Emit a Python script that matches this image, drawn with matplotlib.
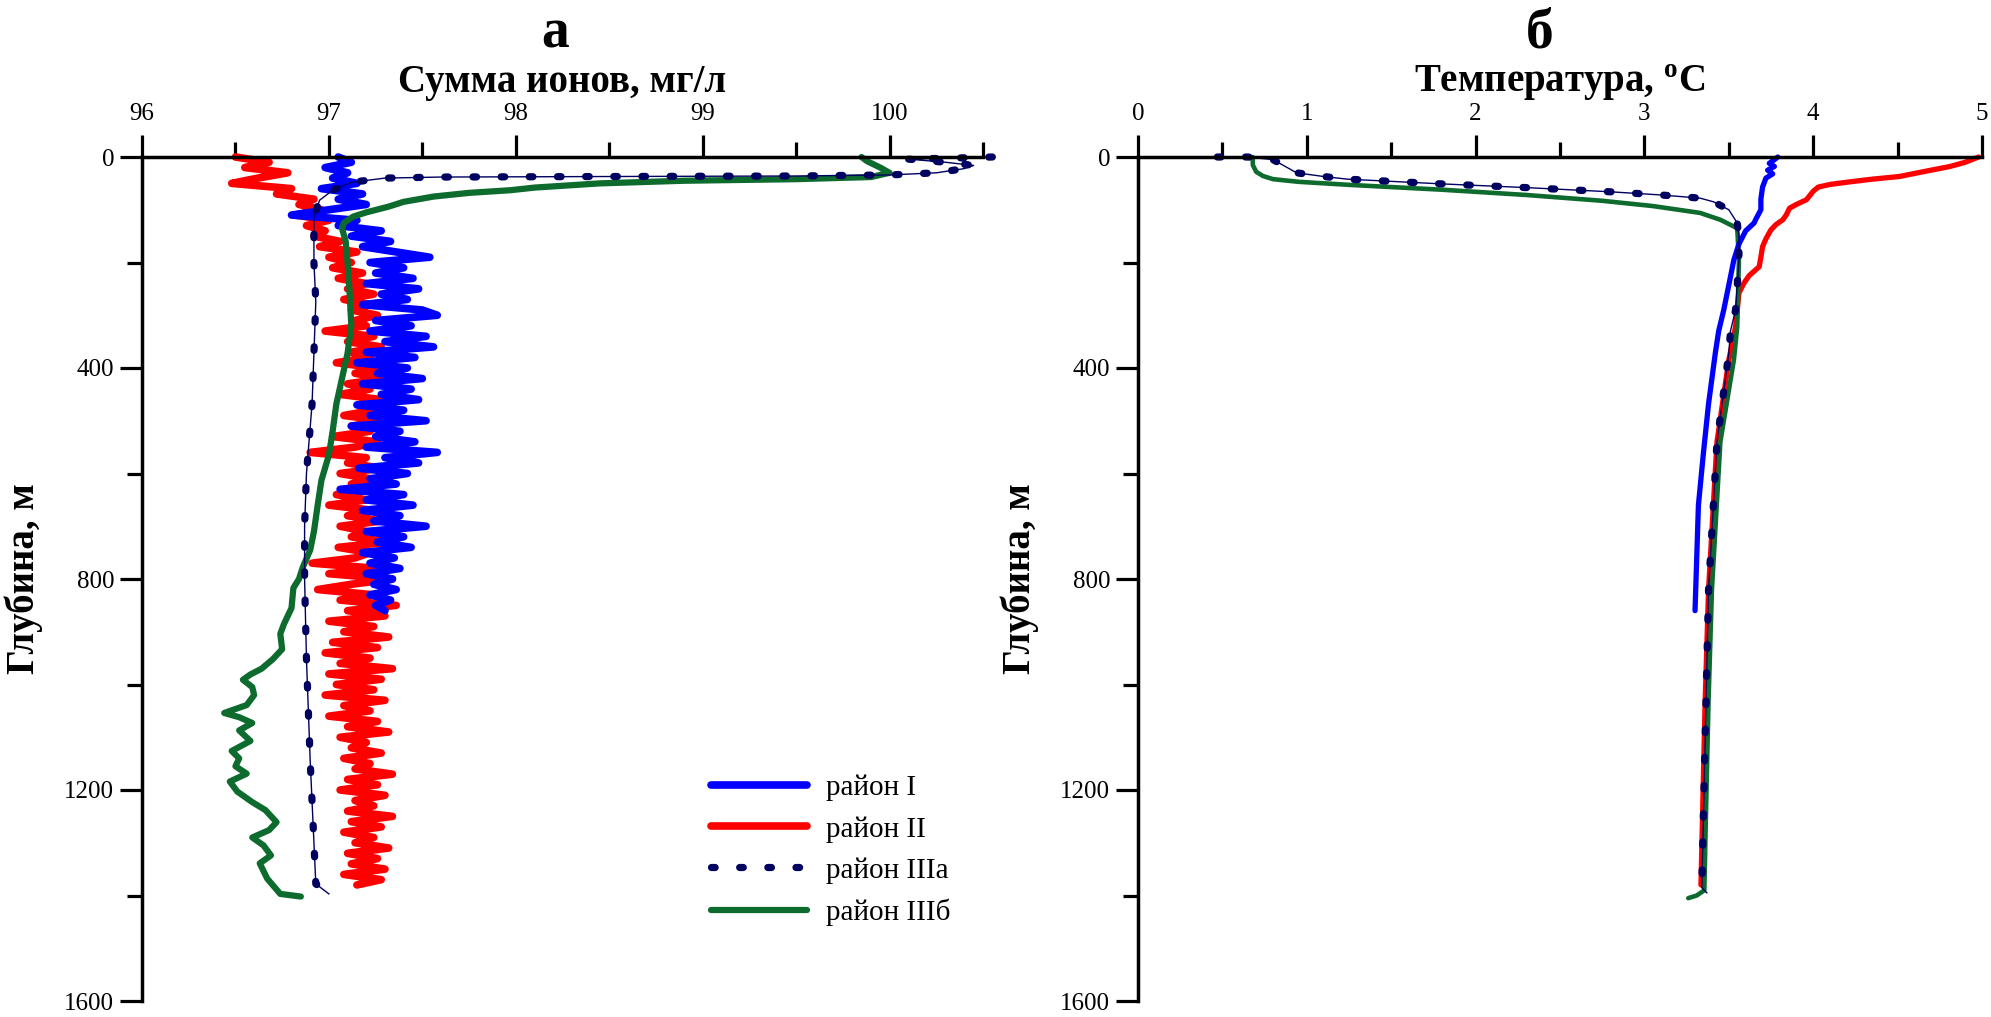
import numpy as np
import matplotlib
matplotlib.use("Agg")
import matplotlib.pyplot as plt
from matplotlib.ticker import MultipleLocator

plt.rcParams['font.family'] = ['Liberation Serif', 'DejaVu Serif']
plt.rcParams['mathtext.fontset'] = 'custom'
plt.rcParams['mathtext.rm'] = 'Liberation Serif'
plt.rcParams['mathtext.bf'] = 'Liberation Serif:bold'

# ---------------- data: panel a (sum of ions, mg/l) ----------------
blue_a_depth = list(range(0, 861, 10))
blue_a_val = [97.05, 97.12, 96.98, 97.10, 97.02, 97.15, 96.96, 97.18, 97.05, 97.20,
              97.00, 96.80, 97.15, 97.05, 97.28, 97.12, 97.33, 97.18, 97.36, 97.54,
              97.22, 97.40, 97.25, 97.45, 97.20, 97.48, 97.28, 97.42, 97.18, 97.50,
              97.58, 97.25, 97.44, 97.22, 97.52, 97.30, 97.56, 97.20, 97.46, 97.15,
              97.42, 97.26, 97.50, 97.18, 97.44, 97.28, 97.48, 97.15, 97.40, 97.22,
              97.52, 97.12, 97.38, 97.25, 97.46, 97.20, 97.58, 97.30, 97.48, 97.16,
              97.42, 97.22, 97.36, 97.06, 97.40, 97.20, 97.45, 97.18, 97.38, 97.24,
              97.52, 97.20, 97.40, 97.26, 97.44, 97.18, 97.35, 97.22, 97.38, 97.20,
              97.34, 97.24, 97.36, 97.22, 97.33, 97.25, 97.30]

red_a_depth = list(range(0, 1381, 10))
red_a_val = [96.50, 96.68, 96.55, 96.78, 96.62, 96.48, 96.80, 96.72, 96.92, 96.84,
             96.96, 96.82, 97.00, 96.88, 96.98, 96.92, 97.06, 96.95, 97.15, 97.00,
             97.12, 97.02, 97.18, 97.05, 97.20, 97.10, 97.24, 97.08, 97.22, 97.12,
             97.26, 97.14, 97.20, 96.98, 97.24, 97.10, 97.28, 97.12, 97.22, 97.04,
             97.26, 97.14, 97.30, 97.10, 97.22, 97.06, 97.28, 97.16, 97.24, 97.08,
             97.30, 97.12, 97.22, 97.02, 97.26, 97.14, 96.90, 97.20, 97.10, 97.28,
             97.06, 97.22, 97.12, 97.26, 97.04, 97.20, 97.00, 97.24, 97.10, 97.28,
             97.06, 97.20, 97.12, 97.32, 97.05, 97.22, 97.14, 96.91, 97.26, 97.00,
             97.34, 97.12, 96.94, 97.24, 97.06, 97.36, 97.10, 97.30, 97.00, 97.24,
             97.08, 97.32, 97.02, 97.26, 96.98, 97.22, 97.06, 97.34, 97.00, 97.28,
             97.04, 97.24, 96.98, 97.30, 97.08, 97.22, 97.00, 97.26, 97.10, 97.32,
             97.06, 97.20, 97.12, 97.28, 97.08, 97.22, 97.14, 97.34, 97.10, 97.26,
             97.06, 97.30, 97.14, 97.24, 97.10, 97.34, 97.12, 97.28, 97.08, 97.24,
             97.14, 97.32, 97.10, 97.26, 97.12, 97.30, 97.08, 97.28, 97.15]

navy_a_val = [100.55, 100.35, 100.10, 100.30, 100.45, 100.40, 100.25, 100.00, 99.50,
              98.50, 97.60, 97.30, 97.12, 97.02, 96.95, 96.92, 96.92, 96.93, 96.91,
              96.88, 96.87, 96.87, 96.88, 96.90, 96.92, 96.93, 97.00]
navy_a_depth = [0, 2, 4, 10, 16, 22, 30, 34, 36,
                37, 38, 40, 48, 63, 82, 113, 200, 275, 468,
                600, 700, 800, 952, 1145, 1300, 1378, 1397]

green_a_val = [99.85, 99.88, 99.95, 100.00, 99.90, 99.50, 98.90, 98.45, 98.10, 97.97,
               97.75, 97.56, 97.40, 97.32, 97.20, 97.13, 97.08, 97.07, 97.09, 97.10,
               97.11, 97.12, 97.10, 97.07, 97.04, 97.02, 97.00, 96.96, 96.94, 96.92,
               96.90, 96.86, 96.84, 96.81, 96.80, 96.76, 96.74, 96.75, 96.70, 96.64,
               96.58, 96.54, 96.59, 96.60, 96.56, 96.44, 96.52, 96.59, 96.52, 96.58,
               96.48, 96.52, 96.50, 96.56, 96.47, 96.51, 96.59, 96.66, 96.72, 96.68,
               96.59, 96.65, 96.69, 96.63, 96.67, 96.74, 96.85]
green_a_depth = [0, 8, 20, 30, 38, 42, 45, 50, 58, 63,
                 68, 75, 85, 94, 105, 113, 125, 135, 160, 200,
                 250, 320, 372, 420, 468, 520, 565, 613, 660, 710,
                 745, 778, 800, 817, 855, 885, 904, 933, 952, 970,
                 981, 991, 1005, 1020, 1039, 1054, 1062, 1073, 1087, 1107,
                 1126, 1140, 1155, 1169, 1184, 1203, 1223, 1238, 1261, 1276,
                 1290, 1305, 1324, 1339, 1368, 1397, 1402]

# ---------------- data: panel b (temperature, C) ----------------
red_b_val = [4.98, 4.90, 4.81, 4.65, 4.51, 4.35, 4.22, 4.10, 4.03, 4.00, 3.96, 3.90,
             3.86, 3.84, 3.82, 3.78, 3.75, 3.72, 3.70, 3.69, 3.68, 3.62, 3.59, 3.56,
             3.54, 3.50, 3.43, 3.38, 3.36, 3.345, 3.335]
red_b_depth = [0, 10, 18, 28, 37, 42, 47, 52, 57, 65, 81, 90,
               97, 110, 119, 128, 138, 155, 170, 190, 208, 225, 239, 258,
               322, 385, 540, 820, 1030, 1240, 1380]

blue_b_val = [3.79, 3.77, 3.74, 3.77, 3.73, 3.76, 3.72, 3.70, 3.69, 3.69, 3.66, 3.65,
              3.60, 3.56, 3.53, 3.51, 3.47, 3.44, 3.42, 3.38, 3.35, 3.32, 3.31, 3.30]
blue_b_depth = [0, 5, 12, 18, 25, 32, 40, 57, 80, 100, 118, 125,
                140, 165, 195, 227, 290, 330, 372, 468, 560, 660, 760, 860]

navy_b_val = [0.47, 0.65, 0.80, 0.94, 1.10, 1.24, 1.80, 2.30, 2.80, 3.10, 3.33, 3.41,
              3.50, 3.55, 3.56, 3.56, 3.54, 3.51, 3.50, 3.43, 3.38, 3.365, 3.35, 3.34,
              3.37]
navy_b_depth = [0, 0, 5, 30, 37, 42, 51, 58, 66, 72, 78, 85,
                100, 125, 150, 195, 290, 330, 372, 540, 820, 1030, 1240, 1385,
                1395]

green_b_val = [0.68, 0.68, 0.70, 0.74, 0.80, 0.95, 1.26, 1.80, 2.30, 2.75, 3.05, 3.33,
               3.45, 3.55, 3.56, 3.55, 3.53, 3.45, 3.40, 3.38, 3.365, 3.355, 3.31, 3.26]
green_b_depth = [0, 15, 28, 36, 42, 47, 53, 62, 72, 83, 93, 106,
                 119, 135, 195, 322, 385, 540, 820, 1030, 1240, 1390, 1400, 1405]

labels = ['район I', 'район II', 'район IIIа', 'район IIIб']
c_blue, c_red, c_navy, c_green = '#0000FF', '#FF0000', '#000060', '#0E6B2E'

# ---------------- figure ----------------
W, H = 1991, 1017
fig = plt.figure(figsize=(W / 100, H / 100), dpi=100)
ax1 = fig.add_axes([142 / W, 1 - 1001 / H, 841 / W, 844 / H])
ax2 = fig.add_axes([1138 / W, 1 - 1001 / H, 844 / W, 844 / H])

tick_fs = 18
lab_fs = 28


def style(ax, xlim, xmajor, xlabel):
    ax.set_xlim(*xlim)
    ax.set_ylim(1600, 0)
    for s in ['right', 'bottom']:
        ax.spines[s].set_visible(False)
    for s in ['left', 'top']:
        ax.spines[s].set_linewidth(2.5)
    ax.xaxis.tick_top()
    ax.xaxis.set_label_position('top')
    ax.xaxis.set_major_locator(MultipleLocator(xmajor))
    ax.xaxis.set_minor_locator(MultipleLocator(xmajor / 2))
    ax.yaxis.set_major_locator(MultipleLocator(400))
    ax.yaxis.set_minor_locator(MultipleLocator(200))
    ax.tick_params(which='major', length=16, width=2.3, labelsize=tick_fs, direction='out')
    ax.tick_params(which='minor', length=11, width=2.3, direction='out')
    ax.tick_params(axis='x', which='major', pad=7)
    ax.tick_params(axis='y', which='major', pad=4)
    ax.set_xlabel(xlabel, fontsize=lab_fs, fontweight='bold', va='center', ha='center')
    ax.set_ylabel('Глубина, м', fontsize=lab_fs, fontweight='bold', va='center', ha='center')
    w_px = ax.get_position().width * W
    ax.xaxis.set_label_coords(0.5, 1 + (157 - 82) / 844)
    ax.yaxis.set_label_coords(-118 / w_px, 0.5)


style(ax1, (96, 100.5), 1, 'Сумма ионов, мг/л')
style(ax2, (0, 5), 1, 'Температура, $^{\\mathbf{o}}$C')

kw = dict(solid_capstyle='round', solid_joinstyle='round', clip_on=False)
dot_ls = (0, (0.5, 3.4))

# panel a
h_red, = ax1.plot(red_a_val, red_a_depth, color=c_red, lw=5.5, **kw)
h_blue, = ax1.plot(blue_a_val, blue_a_depth, color=c_blue, lw=5.5, **kw)
h_green, = ax1.plot(green_a_val, green_a_depth, color=c_green, lw=4.5, **kw)
ax1.plot(navy_a_val, navy_a_depth, color=c_navy, lw=1.0, clip_on=False)
h_navy, = ax1.plot(navy_a_val, navy_a_depth, color=c_navy, lw=5.2,
                   linestyle=dot_ls, dash_capstyle='round', clip_on=False)

# panel b
ax2.plot(red_b_val, red_b_depth, color=c_red, lw=3.8, **kw)
ax2.plot(green_b_val, green_b_depth, color=c_green, lw=3.3, **kw)
ax2.plot(blue_b_val, blue_b_depth, color=c_blue, lw=3.8, **kw)
ax2.plot(navy_b_val, navy_b_depth, color=c_navy, lw=1.0, clip_on=False)
ax2.plot(navy_b_val, navy_b_depth, color=c_navy, lw=5.2,
         linestyle=dot_ls, dash_capstyle='round', clip_on=False)

ax1.legend([h_blue, h_red, h_navy, h_green], labels, loc='upper left',
           bbox_to_anchor=(0.6766, 0.2678), frameon=False, borderpad=0,
           borderaxespad=0, handlelength=3.3, handletextpad=0.65,
           labelspacing=0.5, fontsize=21)

fig.text(555 / W, 1 - 48 / H, 'а', fontsize=40, fontweight='bold', ha='center', va='baseline')
fig.text(1540 / W, 1 - 48 / H, 'б', fontsize=40, fontweight='bold', ha='center', va='baseline')

fig.savefig('out.png', dpi=100)
